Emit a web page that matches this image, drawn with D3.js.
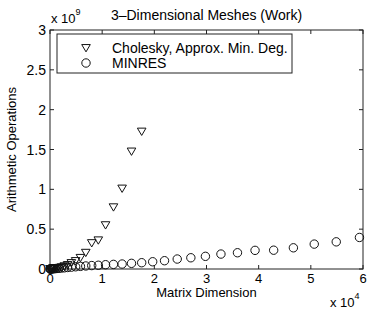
<!DOCTYPE html>
<html>
<head>
<meta charset="utf-8">
<script src="https://cdn.jsdelivr.net/npm/d3@7"></script>
<style>
  body { margin: 0; background: #fff; }
  svg text { font-family: "Liberation Sans", Arial, sans-serif; fill: #000; }
</style>
</head>
<body>
<div id="vis"></div>
<script>
// matrix dimensions (x) and operation counts (y, in units of 1e9)
var cholN = [27, 64, 125, 216, 343, 512, 729, 1000, 1331, 1728, 2197, 2744, 3375, 4096,
             4913, 5832, 6859, 8000, 9261, 10648, 12167, 13824, 15625, 17576];
var cholOps = [0.00005, 0.0001, 0.0002, 0.0004, 0.0008, 0.0015, 0.003, 0.005, 0.009, 0.014,
               0.022, 0.035, 0.05, 0.075, 0.1, 0.14, 0.204, 0.325, 0.36, 0.55, 0.775,
               1.01, 1.475, 1.725];

var minresN = [27, 64, 125, 216, 343, 512, 729, 1000, 1331, 1728, 2197, 2744, 3375, 4096,
               4913, 5832, 6859, 8000, 9261, 10648, 12167, 13824, 15625, 17576, 19683,
               21952, 24389, 27000, 29791, 32768, 35937, 39304, 42875, 46656, 50653,
               54872, 59319];
var minresOps = [0.0001, 0.0002, 0.0004, 0.0007, 0.0012, 0.002, 0.0035, 0.005, 0.007, 0.009,
                 0.012, 0.015, 0.019, 0.023, 0.028, 0.033, 0.038, 0.043, 0.047, 0.054,
                 0.058, 0.0625, 0.071, 0.079, 0.091, 0.104, 0.125, 0.141, 0.159, 0.1875,
                 0.204, 0.234, 0.236, 0.266, 0.3125, 0.341, 0.396];

var xTicks = [0, 1, 2, 3, 4, 5, 6];
var yTicks = [0, 0.5, 1, 1.5, 2, 2.5, 3];
var legendLabels = ["Cholesky, Approx. Min. Deg.", "MINRES"];

var W = 374, H = 311;
var margin = {top: 30, right: 11, bottom: 42, left: 50},
    width = W - margin.left - margin.right,
    height = H - margin.top - margin.bottom;

var svg = d3.select("#vis").append("svg")
  .attr("width", W)
  .attr("height", H);

var g = svg.append("g")
  .attr("transform", "translate(" + margin.left + "," + margin.top + ")");

var x = d3.scaleLinear().domain([0, 6e4]).range([0, width]);
var y = d3.scaleLinear().domain([0, 3]).range([height, 0]);

var axisColor = "#222";

// box
g.append("rect")
  .attr("width", width).attr("height", height)
  .attr("fill", "none").attr("stroke", axisColor).attr("stroke-width", 1);

// inward ticks on all four sides
var tl = 4;
xTicks.forEach(function (t) {
  var px = x(t * 1e4);
  g.append("line").attr("x1", px).attr("x2", px).attr("y1", height).attr("y2", height - tl)
    .attr("stroke", axisColor);
  g.append("line").attr("x1", px).attr("x2", px).attr("y1", 0).attr("y2", tl)
    .attr("stroke", axisColor);
  g.append("text").attr("x", px).attr("y", height + 14)
    .attr("text-anchor", "middle").style("font-size", "13px").text(t);
});
yTicks.forEach(function (t) {
  var py = y(t);
  g.append("line").attr("x1", 0).attr("x2", tl).attr("y1", py).attr("y2", py)
    .attr("stroke", axisColor);
  g.append("line").attr("x1", width).attr("x2", width - tl).attr("y1", py).attr("y2", py)
    .attr("stroke", axisColor);
  g.append("text").attr("x", -4).attr("y", py + 5)
    .attr("text-anchor", "end").style("font-size", "14px").text(t);
});

// exponent labels
var e9 = svg.append("text").attr("x", 51).attr("y", 23).style("font-size", "13px");
e9.append("tspan").text("x 10");
e9.append("tspan").attr("dy", -8).style("font-size", "9px").text("9");

var e4 = svg.append("text").attr("x", 330).attr("y", 307).style("font-size", "13px");
e4.append("tspan").text("x 10");
e4.append("tspan").attr("dy", -8).style("font-size", "9px").text("4");

// titles
svg.append("text").attr("x", margin.left + width / 2).attr("y", 20)
  .attr("text-anchor", "middle").style("font-size", "14px")
  .text("3\u2013Dimensional Meshes (Work)");
svg.append("text").attr("x", margin.left + width / 2).attr("y", 297)
  .attr("text-anchor", "middle").style("font-size", "13px")
  .text("Matrix Dimension");
svg.append("text")
  .attr("transform", "translate(16," + (margin.top + height / 2) + ") rotate(-90)")
  .attr("text-anchor", "middle").style("font-size", "13px")
  .text("Arithmetic Operations");

// markers
function triPath(s) {
  return "M" + (-s) + "," + (-s * 0.8) + "L" + s + "," + (-s * 0.8) + "L0," + (s * 0.9) + "Z";
}

var minresData = minresN.map(function (n, i) { return [n, minresOps[i]]; });
var cholData = cholN.map(function (n, i) { return [n, cholOps[i]]; });

g.selectAll(".circ").data(minresData).enter().append("circle")
  .attr("class", "circ")
  .attr("cx", function (d) { return x(d[0]); })
  .attr("cy", function (d) { return y(d[1]); })
  .attr("r", 4.2)
  .attr("fill", "none").attr("stroke", "#111").attr("stroke-width", 1);

g.selectAll(".tri").data(cholData).enter().append("path")
  .attr("class", "tri")
  .attr("transform", function (d) { return "translate(" + x(d[0]) + "," + y(d[1]) + ")"; })
  .attr("d", triPath(4.3))
  .attr("fill", "none").attr("stroke", "#111").attr("stroke-width", 1);

// legend
var lg = svg.append("g");
lg.append("rect").attr("x", 57).attr("y", 34).attr("width", 235).attr("height", 39)
  .attr("fill", "#fff").attr("stroke", axisColor);
lg.append("path").attr("transform", "translate(86,48)").attr("d", triPath(4.3))
  .attr("fill", "none").attr("stroke", "#111");
lg.append("circle").attr("cx", 86).attr("cy", 63).attr("r", 4.2)
  .attr("fill", "none").attr("stroke", "#111");
legendLabels.forEach(function (l, i) {
  lg.append("text").attr("x", 112).attr("y", 53 + i * 15)
    .style("font-size", "14px").text(l);
});
</script>
</body>
</html>
